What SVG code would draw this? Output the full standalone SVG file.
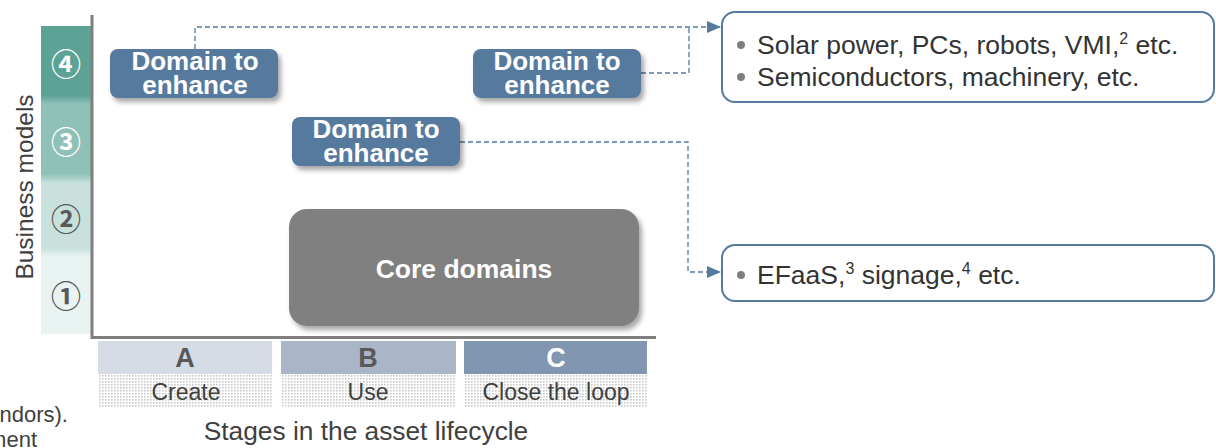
<svg xmlns="http://www.w3.org/2000/svg" width="1216" height="448" viewBox="0 0 1216 448">
  <defs>
    <style>
      .txt { font-family: "Liberation Sans", Arial, sans-serif; fill: #404040; }
      .dom rect { fill: #56799e; }
      .dom text { font-family: "Liberation Sans", Arial, sans-serif; font-weight: bold; font-size: 26px; fill: #ffffff; text-anchor: middle; }
      .num { font-family: "Noto Sans CJK JP", "DejaVu Sans", sans-serif; font-weight: bold; font-size: 30px; text-anchor: middle; }
      .stage { font-family: "Liberation Sans", Arial, sans-serif; font-weight: bold; font-size: 27px; text-anchor: middle; }
      .lbl { font-family: "Liberation Sans", Arial, sans-serif; font-size: 23px; fill: #404040; text-anchor: middle; }
      .note rect { fill: #ffffff; stroke: #56799e; stroke-width: 2; }
      .note text { font-family: "Liberation Sans", Arial, sans-serif; font-size: 26.5px; fill: #333333; }
      .bullet { fill: #7f7f7f; }
      .conn { fill: none; stroke: #56799e; stroke-width: 1.3; stroke-dasharray: 5 3; }
      .axis { fill: none; stroke: #7f7f7f; stroke-width: 3; }
    </style>
    <linearGradient id="bandFill" x1="0" y1="0" x2="0" y2="1">
      <stop offset="0" stop-color="#5ca295"/>
      <stop offset="0.225" stop-color="#5ca295"/>
      <stop offset="0.255" stop-color="#90c1b9"/>
      <stop offset="0.48" stop-color="#90c1b9"/>
      <stop offset="0.51" stop-color="#c8e1dd"/>
      <stop offset="0.72" stop-color="#c8e1dd"/>
      <stop offset="0.75" stop-color="#e9f3f1"/>
      <stop offset="1" stop-color="#e9f3f1"/>
    </linearGradient>
    <pattern id="dots" width="3" height="3" patternUnits="userSpaceOnUse">
      <rect width="3" height="3" fill="#ffffff"/>
      <rect x="0" y="0" width="1.6" height="1.6" fill="#c9c9c9"/>
    </pattern>
    <filter id="shadow" x="-10%" y="-20%" width="130%" height="160%">
      <feDropShadow dx="3" dy="4" stdDeviation="2.5" flood-color="#000000" flood-opacity="0.35"/>
    </filter>
    <marker id="arrow" viewBox="0 0 14 12" refX="13" refY="6" markerWidth="14" markerHeight="12" markerUnits="userSpaceOnUse" orient="auto">
      <path d="M0,0 L14,6 L0,12 Z" fill="#56799e"/>
    </marker>
  </defs>

  <!-- vertical axis title and business-model band -->
  <text class="txt" font-size="24.5" transform="translate(33,187) rotate(-90)" text-anchor="middle">Business models</text>
  <rect x="41" y="26" width="50" height="308" fill="url(#bandFill)"/>
  <text class="num" x="66" y="75" fill="#ffffff">④</text>
  <text class="num" x="66" y="153" fill="#ffffff">③</text>
  <text class="num" x="66" y="230" fill="#595959">②</text>
  <text class="num" x="66" y="307" fill="#595959">①</text>

  <!-- axes -->
  <path class="axis" d="M92,15 V337.5 H656"/>

  <!-- connectors -->
  <g id="connectors">
    <path class="conn" d="M195,49 V27 H720" marker-end="url(#arrow)"/>
    <path class="conn" d="M641,73 H689 V27"/>
    <path class="conn" d="M460,142 H688 V272 H720" marker-end="url(#arrow)"/>
  </g>

  <!-- domains to enhance -->
  <g id="domain-a4" class="dom">
    <rect x="110" y="49" width="168" height="49" rx="8" filter="url(#shadow)"/>
    <text x="195" y="70">Domain to</text>
    <text x="195" y="94">enhance</text>
  </g>
  <g id="domain-c4" class="dom">
    <rect x="473" y="49" width="168" height="49" rx="8" filter="url(#shadow)"/>
    <text x="557" y="70">Domain to</text>
    <text x="557" y="94">enhance</text>
  </g>
  <g id="domain-b3" class="dom">
    <rect x="292" y="117" width="168" height="49" rx="8" filter="url(#shadow)"/>
    <text x="376" y="138">Domain to</text>
    <text x="376" y="162">enhance</text>
  </g>

  <!-- core domains -->
  <g id="core">
    <rect x="289" y="209" width="350" height="117" rx="18" fill="#808080" filter="url(#shadow)"/>
    <text x="464" y="278" font-family="Liberation Sans, Arial, sans-serif" font-weight="bold" font-size="26.5" fill="#ffffff" text-anchor="middle">Core domains</text>
  </g>

  <!-- lifecycle stages -->
  <g id="stage-a">
    <rect x="98" y="341" width="174" height="33" fill="#d6dce6"/>
    <rect x="98" y="374" width="174" height="34" fill="url(#dots)"/>
    <text class="stage" x="185" y="367" fill="#595959">A</text>
    <text class="lbl" x="186" y="400">Create</text>
  </g>
  <g id="stage-b">
    <rect x="281" y="341" width="175" height="33" fill="#aab6c8"/>
    <rect x="281" y="374" width="175" height="34" fill="url(#dots)"/>
    <text class="stage" x="368" y="367" fill="#595959">B</text>
    <text class="lbl" x="368" y="400">Use</text>
  </g>
  <g id="stage-c">
    <rect x="464" y="341" width="183" height="33" fill="#8196b0"/>
    <rect x="464" y="374" width="183" height="34" fill="url(#dots)"/>
    <text class="stage" x="556" y="367" fill="#ffffff">C</text>
    <text class="lbl" x="556" y="400">Close the loop</text>
  </g>
  <text class="txt" x="366" y="440" font-size="26.3" text-anchor="middle">Stages in the asset lifecycle</text>

  <!-- trailing lines of a neighbouring note -->
  <text class="txt" x="68" y="422" font-size="22" text-anchor="end">ndors).</text>
  <text class="txt" x="37" y="447" font-size="22" text-anchor="end">ment</text>

  <!-- example lists -->
  <g id="examples-4" class="note">
    <rect x="722" y="12" width="492" height="90" rx="13"/>
    <circle class="bullet" cx="741" cy="45" r="4"/>
    <circle class="bullet" cx="741" cy="77" r="4"/>
    <text x="757" y="54">Solar power, PCs, robots, VMI,<tspan font-size="16" dy="-10">2</tspan><tspan dy="10"> etc.</tspan></text>
    <text x="757" y="86">Semiconductors, machinery, etc.</text>
  </g>
  <g id="examples-3" class="note">
    <rect x="722" y="245" width="492" height="56" rx="13"/>
    <circle class="bullet" cx="741" cy="275" r="4"/>
    <text x="757" y="284">EFaaS,<tspan font-size="16" dy="-10">3</tspan><tspan dy="10"> signage,</tspan><tspan font-size="16" dy="-10">4</tspan><tspan dy="10"> etc.</tspan></text>
  </g>
</svg>
